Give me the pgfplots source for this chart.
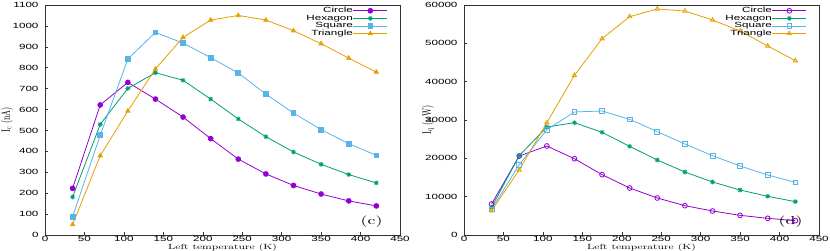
\documentclass[border=0pt]{standalone}
\usepackage{fontspec}
\setmainfont{lmroman10-regular}[Extension=.otf, FakeStretch=1.55]
\setsansfont{Liberation Sans}[FakeStretch=1.55]
\newfontfamily\ylfont{lmroman10-regular}[Extension=.otf]
\usepackage{pgfplots}
\pgfplotsset{compat=1.18}
\definecolor{cA}{HTML}{9400D3}
\definecolor{cB}{HTML}{009E73}
\definecolor{cC}{HTML}{56B4E9}
\definecolor{cD}{HTML}{E69F00}
\pgfdeclareplotmark{gpstar}{%
\pgfpathmoveto{\pgfqpoint{-\pgfplotmarksize}{0pt}}\pgfpathlineto{\pgfqpoint{\pgfplotmarksize}{0pt}}%
\pgfpathmoveto{\pgfqpoint{0pt}{-\pgfplotmarksize}}\pgfpathlineto{\pgfqpoint{0pt}{\pgfplotmarksize}}%
\pgfpathmoveto{\pgfqpoint{-.707\pgfplotmarksize}{-.707\pgfplotmarksize}}\pgfpathlineto{\pgfqpoint{.707\pgfplotmarksize}{.707\pgfplotmarksize}}%
\pgfpathmoveto{\pgfqpoint{-.707\pgfplotmarksize}{.707\pgfplotmarksize}}\pgfpathlineto{\pgfqpoint{.707\pgfplotmarksize}{-.707\pgfplotmarksize}}%
\pgfusepathqstroke}
\pgfplotsset{
  gpaxis/.style={
    scale only axis, width=355pt, height=230pt,
    xmin=0, xmax=450, xtick distance=50, ymin=0,
    axis line style={black!80, line width=0.6pt},
    tick align=inside, major tick length=3pt, tick style={black!80, line width=0.5pt},
    xtick pos=lower, ytick pos=left,
    /pgf/number format/assume math mode=true,
    /pgf/number format/1000 sep={},
    scaled y ticks=false,
    tick label style={font=\sffamily\fontsize{7.5}{7.5}\selectfont},
    xticklabel style={anchor=center, yshift=-4pt},
    yticklabel style={xshift=-3pt},
    every axis x label/.style={at={(axis description cs:0.5,0)}, anchor=center, yshift=-12.8pt, font=\rmfamily\fontsize{7.5}{7.5}\selectfont},
    xlabel={Left temperature (K)},
    legend style={draw=none, fill=none, at={(rel axis cs:0.966,0.991)}, anchor=north east,
      inner sep=0pt, row sep=0.6pt,
      nodes={font=\sffamily\fontsize{7.5}{7.5}\selectfont, text height=5.5pt, text depth=1.5pt, inner sep=0pt, outer sep=0pt}},
    legend cell align=right, legend plot pos=right,
    legend image code/.code={\draw[mark repeat=2,mark phase=2] plot coordinates {(0pt,0pt)(17pt,0pt)(34pt,0pt)};},
    every axis plot/.append style={line width=0.8pt, mark size=2.4pt},
    every mark/.append style={xscale=1.45, solid},
  }
}
\begin{document}
\begin{tikzpicture}
\begin{axis}[gpaxis, at={(0pt,0pt)}, anchor=south west,
  ymax=1100, ytick distance=100,
  every axis y label/.style={at={(axis description cs:0,0.5)}, anchor=center, xshift=-38pt, xscale=1.5, rotate=90, font=\ylfont\fontsize{8}{8}\selectfont},
  ylabel={I\textsubscript{c} (nA)}]
\addplot[color=cA, mark=*] coordinates {(35,223)(70,622)(105,730)(140,650)(175,564)(210,461)(245,363)(280,292)(315,237)(350,196)(385,163)(420,139)};
\addlegendentry{Circle}
\addplot[color=cB, mark=gpstar] coordinates {(35,182)(70,529)(105,701)(140,776)(175,740)(210,650)(245,555)(280,470)(315,397)(350,338)(385,289)(420,249)};
\addlegendentry{Hexagon}
\addplot[color=cC, mark=square*] coordinates {(35,88)(70,477)(105,842)(140,969)(175,918)(210,848)(245,775)(280,674)(315,583)(350,504)(385,437)(420,381)};
\addlegendentry{Square}
\addplot[color=cD, mark=triangle*] coordinates {(35,50)(70,379)(105,593)(140,794)(175,945)(210,1028)(245,1050)(280,1028)(315,977)(350,915)(385,846)(420,779)};
\addlegendentry{Triangle}
\node[font=\rmfamily\fontsize{11.5}{11.5}\selectfont] at (axis cs:414,62) {(c)};
\end{axis}
\begin{axis}[gpaxis, at={(419pt,0pt)}, anchor=south west,
  ymax=60000, ytick distance=10000,
  every axis y label/.style={at={(axis description cs:0,0.5)}, anchor=center, xshift=-36pt, xscale=1.5, rotate=90, font=\ylfont\fontsize{8}{8}\selectfont},
  ylabel={I\textsubscript{q} ($\mu$W)}]
\addplot[color=cA, mark=o] coordinates {(35,8090)(70,20600)(105,23220)(140,19900)(175,15740)(210,12260)(245,9650)(280,7650)(315,6260)(350,5130)(385,4350)(420,3740)};
\addlegendentry{Circle}
\addplot[color=cB, mark=gpstar] coordinates {(35,7220)(70,20700)(105,28170)(140,29300)(175,26780)(210,23130)(245,19570)(280,16430)(315,13830)(350,11740)(385,10090)(420,8700)};
\addlegendentry{Hexagon}
\addplot[color=cC, mark=square] coordinates {(35,6700)(70,18350)(105,27480)(140,32090)(175,32350)(210,30180)(245,26960)(280,23740)(315,20700)(350,18000)(385,15650)(420,13740)};
\addlegendentry{Square}
\addplot[color=cD, mark=triangle] coordinates {(35,6350)(70,16960)(105,29300)(140,41650)(175,51220)(210,56960)(245,58960)(280,58430)(315,56090)(350,53220)(385,49300)(420,45480)};
\addlegendentry{Triangle}
\node[font=\rmfamily\fontsize{11.5}{11.5}\selectfont] at (axis cs:414,3390) {(d)};
\end{axis}
\pgfresetboundingbox
\useasboundingbox (-45pt,-16pt) rectangle (785pt,235pt);
\end{tikzpicture}
\end{document}
